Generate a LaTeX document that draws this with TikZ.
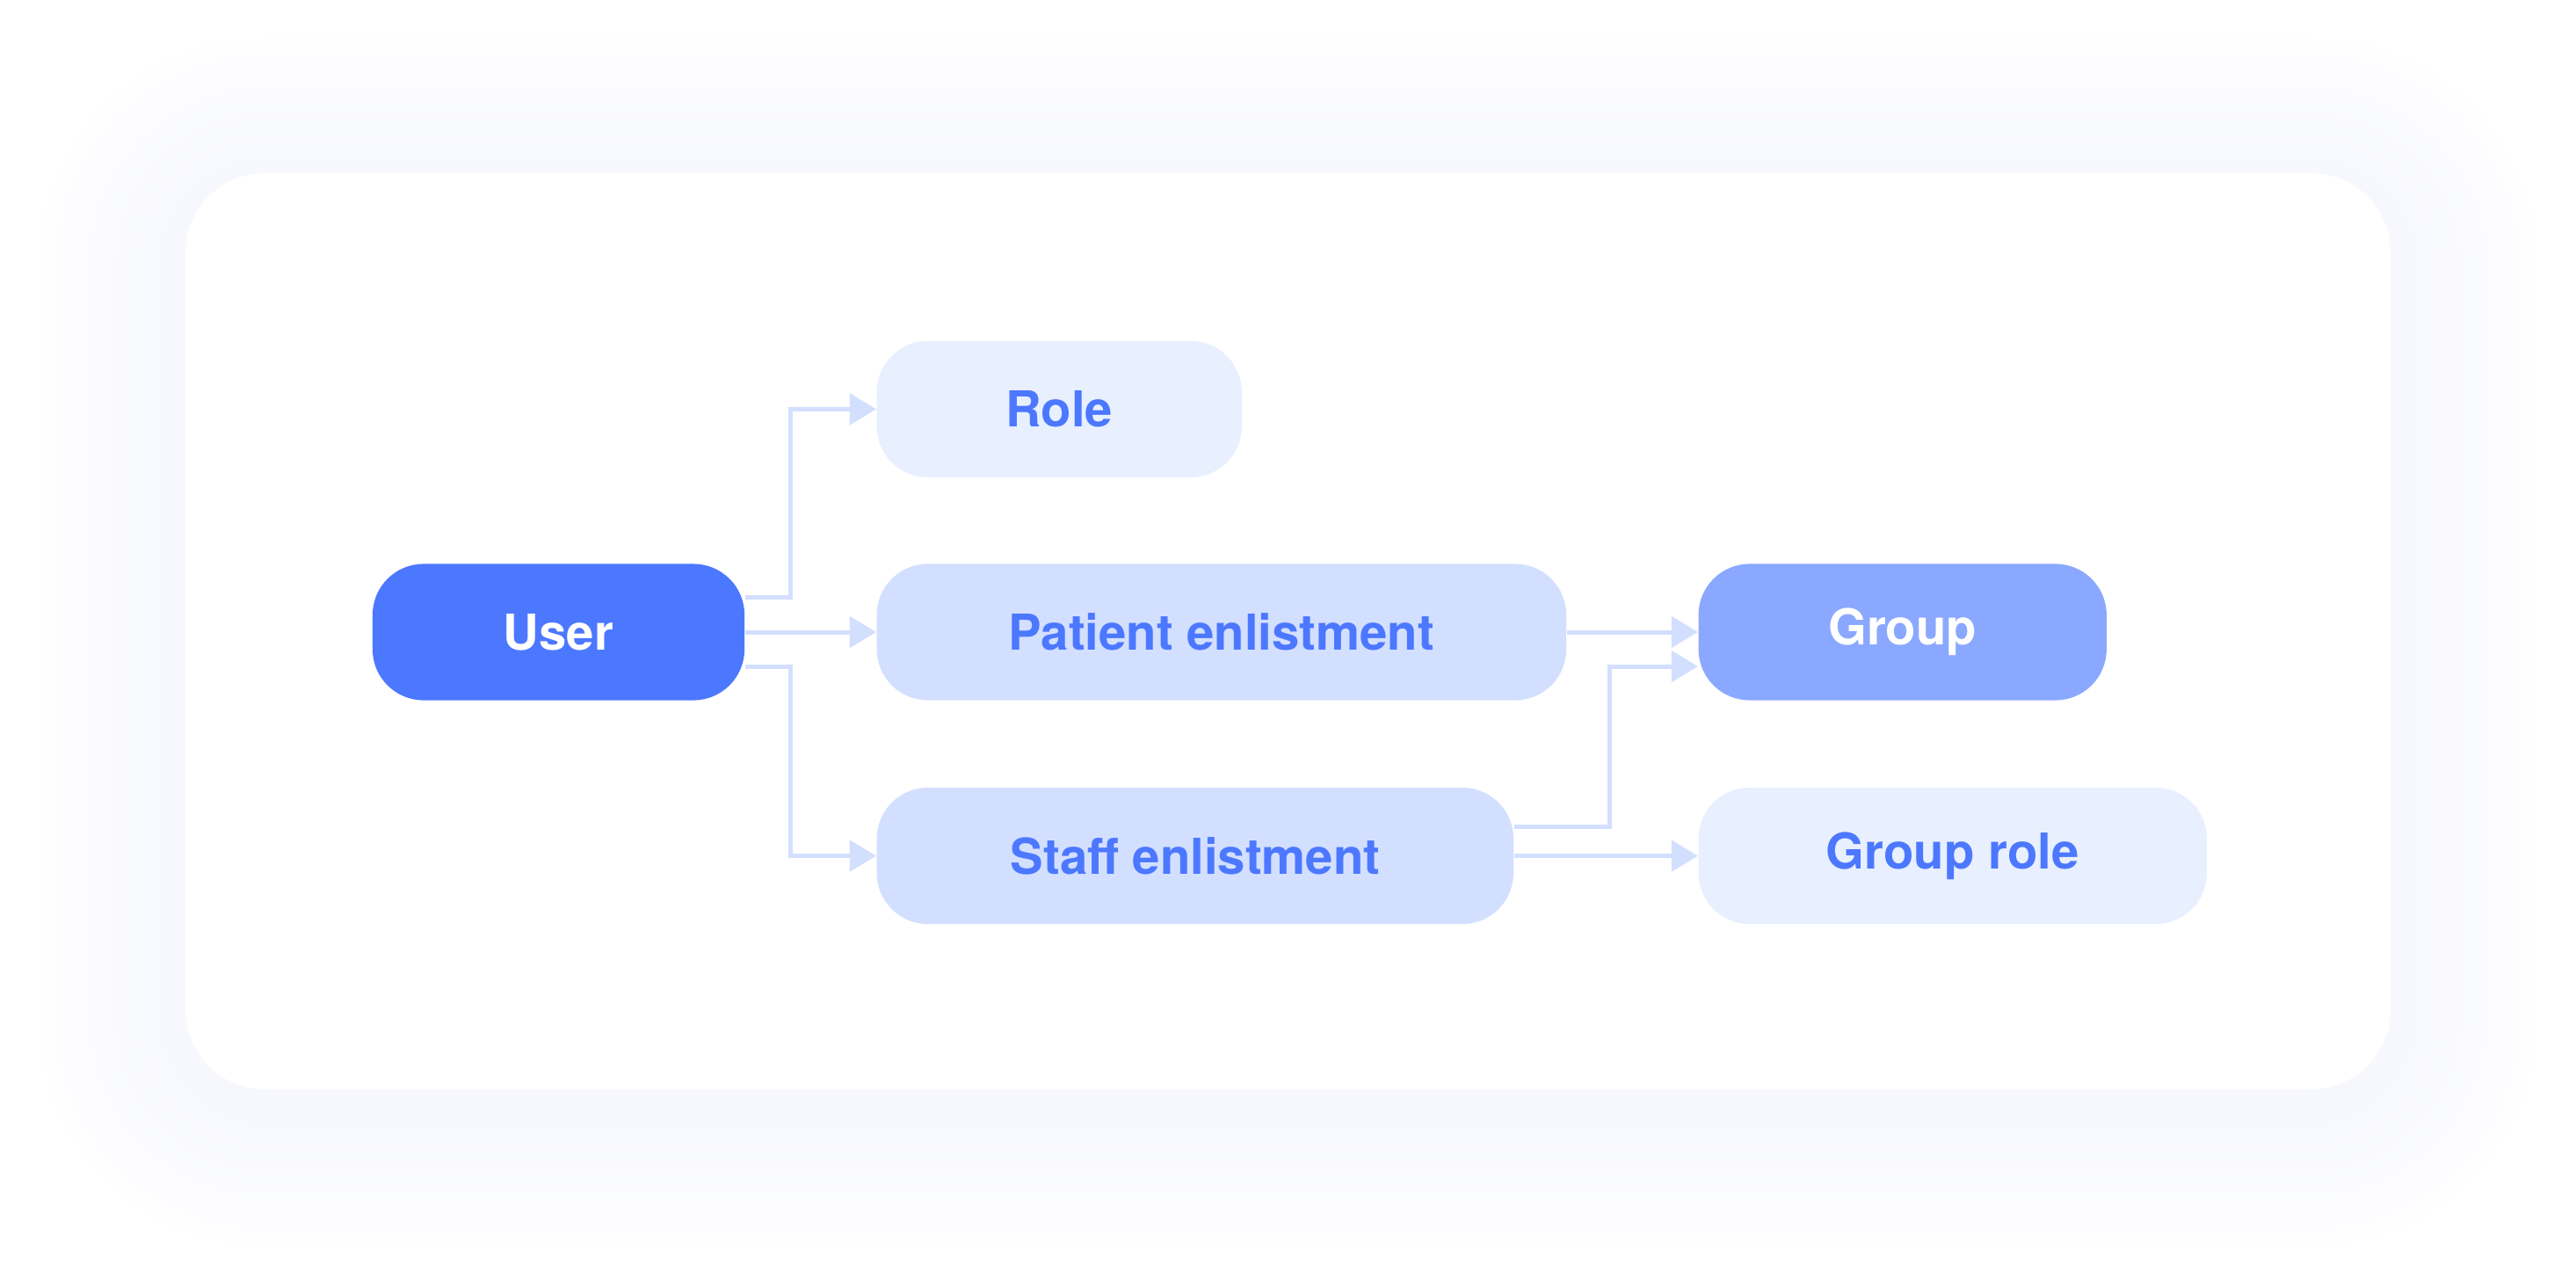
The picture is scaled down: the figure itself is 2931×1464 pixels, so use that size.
\documentclass[tikz,border=0pt]{standalone}
\usepackage{fontspec}
\setmainfont{TeX Gyre Heros}
\usetikzlibrary{positioning, arrows.meta, backgrounds}

\definecolor{userblue}{RGB}{76,120,255}
\definecolor{groupblue}{RGB}{138,168,255}
\definecolor{midblue}{RGB}{211,223,254}
\definecolor{paleblue}{RGB}{232,239,254}
\definecolor{glowblue}{RGB}{240,242,253}

\begin{document}
\begin{tikzpicture}[
  x=0.01cm, y=-0.01cm,
  node distance=1.49cm,
  every node/.style={font=\bfseries\fontsize{16}{19}\selectfont},
  box/.style={rectangle, rounded corners=0.58cm, minimum height=1.55cm, inner sep=0pt, text=userblue},
  arr/.style={-{Triangle[length=0.3cm, width=0.35cm]}, line width=0.05cm, draw=midblue}
]
  \useasboundingbox (0,0) rectangle (2931,1464);

  % soft shadow and card
  \begin{scope}[on background layer]
    \foreach \g [evaluate=\g as \r using 0.9+0.0425*\g] in {1,...,40}
      \fill[glowblue, opacity=0.02, rounded corners=\r cm]
        (211-4.25*\g, 209-4.25*\g) rectangle (2720+4.25*\g, 1251+4.25*\g);
    \fill[white, rounded corners=0.9cm] (211,197) rectangle (2720,1239);
  \end{scope}

  \node[box, fill=userblue, text=white, minimum width=4.23cm] (user) at (635.5,719) {User};
  \node[box, fill=midblue, minimum width=7.84cm, right=of user] (patient) {Patient enlistment};
  \node[box, fill=paleblue, minimum width=4.15cm, above=0.97cm of patient.north west, anchor=south west] (role) {Role};
  \node[box, fill=midblue, minimum width=7.24cm, below=0.98cm of patient.south west, anchor=north west] (staff) {Staff enlistment};
  \node[box, fill=groupblue, text=white, minimum width=4.64cm, right=of patient] (group) {Group};
  \node[box, fill=paleblue, minimum width=5.78cm, below=0.98cm of group.south west, anchor=north west] (grouprole) {Group role};

  \begin{scope}[on background layer]
    \draw[arr] ([yshift=0.39cm]user.east) -- ++(52,0) |- (role.west);
    \draw[arr] (user) -- (patient);
    \draw[arr] ([yshift=-0.39cm]user.east) -- ++(52,0) |- (staff.west);
    \draw[arr] (patient) -- (group);
    \draw[arr] ([yshift=0.33cm]staff.east) -- ++(109,0) |- ([yshift=-0.39cm]group.west);
    \draw[arr] (staff) -- (grouprole);
  \end{scope}
\end{tikzpicture}
\end{document}
